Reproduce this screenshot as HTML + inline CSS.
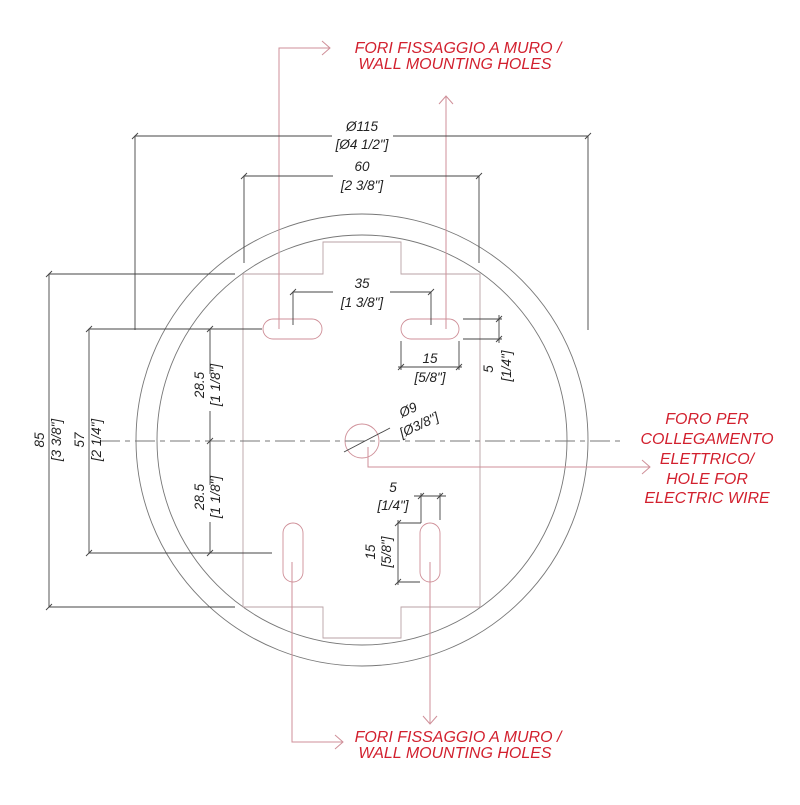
<!DOCTYPE html>
<html><head><meta charset="utf-8"><style>
html,body{margin:0;padding:0;background:#fff;}
svg{display:block;}
text{font-family:"Liberation Sans",sans-serif;font-style:italic;}
.d{font-size:13.5px;fill:#222;}
.r{font-size:16px;fill:#d2202e;}
</style></head><body>
<svg width="800" height="805" viewBox="0 0 800 805" xmlns="http://www.w3.org/2000/svg">
<g fill="none" stroke="#777" stroke-width="0.9">
<circle cx="362" cy="440" r="226"/>
<circle cx="362" cy="440" r="205"/>
</g>
<path d="M243 274 H323 V242 H401 V274 H480 V607 H401 V638 H323 V607 H243 Z" fill="none" stroke="#b9a2a6" stroke-width="0.9"/>
<g fill="none" stroke="#cf8f98" stroke-width="0.9">
<rect x="263" y="319" width="59" height="20" rx="10"/>
<rect x="401" y="319" width="58" height="20" rx="10"/>
<rect x="283" y="523" width="20" height="59" rx="10"/>
<rect x="420" y="523" width="20" height="59" rx="10"/>
<circle cx="362" cy="441" r="17"/>
</g>
<line x1="100" y1="441" x2="620" y2="441" stroke="#777" stroke-width="1" stroke-dasharray="20,5,5,5"/>
<g fill="none" stroke="#cf8f98" stroke-width="1">
<path d="M279 329 V48 H330"/><path d="M322 41 L330 48 L322 55"/>
<path d="M446 329 V96"/><path d="M439 104 L446 96 L453 104"/>
<path d="M292 562 V742 H343"/><path d="M335 735 L343 742 L335 749"/>
<path d="M430 562 V724"/><path d="M423 716 L430 724 L437 716"/>
<path d="M368 447 V467 H650"/><path d="M642 460 L650 467 L642 474"/>
</g>
<g fill="none" stroke="#444" stroke-width="0.9">
<path d="M135 330 V136 H332 M393 136 H588 V330"/>
<path d="M244 263 V176 H333 M390 176 H479 V263"/>
<path d="M293 325 V292 H333 M390 292 H431 V325"/>
<path d="M235 274 H49 V607 H235"/>
<path d="M262 329 H89 V553 H272"/>
<path d="M210 329 V374 M210 411 V441 V485 M210 522 V553"/>
<path d="M401 341 V370 M459 341 V370 M398 367 H462"/>
<path d="M463 319 H502 M463 339 H502 M499 315 V343"/>
<path d="M421 523 V493 M440 520 V493 M414 496 H446"/>
<path d="M398 523 H421 M398 582 H420 M398 520 V585"/>
<path d="M344 452 L390 428"/>
<path d="M132 139 L138 133 M585 139 L591 133 M241 179 L247 173 M476 179 L482 173 M290 295 L296 289 M428 295 L434 289
M46 277 L52 271 M46 610 L52 604 M86 332 L92 326 M86 556 L92 550 M207 332 L213 326 M207 444 L213 438 M207 556 L213 550
M398 370 L404 364 M456 370 L462 364 M496 322 L502 316 M496 342 L502 336 M418 499 L424 493 M437 499 L443 493 M395 526 L401 520 M395 585 L401 579"/>
</g>
<g class="d" text-anchor="middle">
<text x="362" y="131">Ø115</text>
<text x="362" y="149">[Ø4 1/2"]</text>
<text x="362" y="171">60</text>
<text x="362" y="190">[2 3/8"]</text>
<text x="362" y="288">35</text>
<text x="362" y="307">[1 3/8"]</text>
<text x="430" y="363">15</text>
<text x="430" y="382">[5/8"]</text>
<text x="393" y="492">5</text>
<text x="393" y="510">[1/4"]</text>
<text transform="translate(493,369) rotate(-90)">5</text>
<text transform="translate(511,366) rotate(-90)">[1/4"]</text>
<text transform="translate(375,552) rotate(-90)">15</text>
<text transform="translate(391,552) rotate(-90)">[5/8"]</text>
<text transform="translate(204,385) rotate(-90)">28.5</text>
<text transform="translate(220,385) rotate(-90)">[1 1/8"]</text>
<text transform="translate(204,497) rotate(-90)">28.5</text>
<text transform="translate(220,497) rotate(-90)">[1 1/8"]</text>
<text transform="translate(44,440) rotate(-90)">85</text>
<text transform="translate(61,440) rotate(-90)">[3 3/8"]</text>
<text transform="translate(84,440) rotate(-90)">57</text>
<text transform="translate(101,440) rotate(-90)">[2 1/4"]</text>
<text transform="translate(410,414) rotate(-25)">Ø9</text>
<text transform="translate(421,429) rotate(-25)">[Ø3/8"]</text>
</g>
<g class="r" text-anchor="middle">
<text x="458" y="53">FORI FISSAGGIO A MURO /</text>
<text x="455" y="69">WALL MOUNTING HOLES</text>
<text x="458" y="742">FORI FISSAGGIO A MURO /</text>
<text x="455" y="758">WALL MOUNTING HOLES</text>
<text x="707" y="424">FORO PER</text>
<text x="707" y="444">COLLEGAMENTO</text>
<text x="707" y="464">ELETTRICO/</text>
<text x="707" y="484">HOLE FOR</text>
<text x="707" y="503">ELECTRIC WIRE</text>
</g>
</svg>
</body></html>
